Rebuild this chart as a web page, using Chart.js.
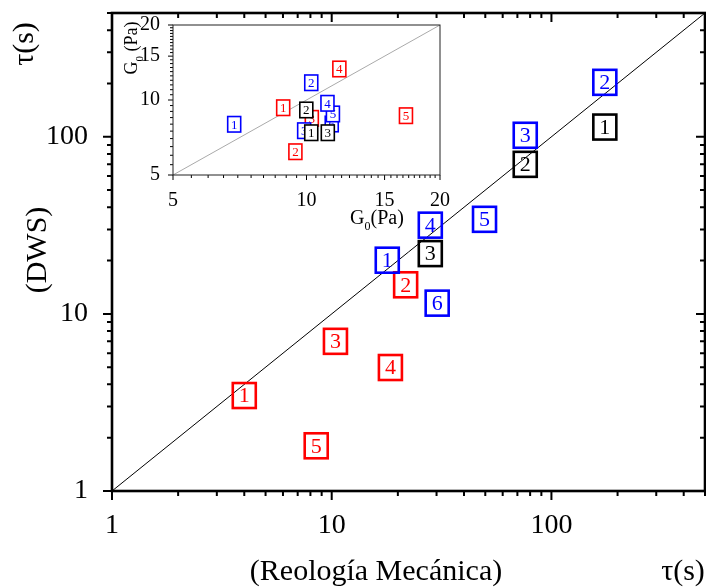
<!DOCTYPE html>
<html>
<head>
<meta charset="utf-8">
<script src="https://cdn.jsdelivr.net/npm/chart.js@4.4.0/dist/chart.umd.min.js"></script>
<style>
  html, body { margin: 0; padding: 0; background: #fff; }
  #wrap { position: relative; width: 706px; height: 587px; }
  #wrap canvas { position: absolute; left: 0; top: 0; }
</style>
</head>
<body>
<div id="wrap">
  <canvas id="mainChart" width="706" height="587"></canvas>
  <canvas id="insetChart" width="706" height="587"></canvas>
</div>
<script>
// relaxation time tau (s): mechanical rheology (x) vs DWS (y)
var tauRange = [1, 500];
var tauTickLabels = [1, 10, 100];

var redLabels = ['1', '2', '3', '4', '5'];
var redTauRheo = [4.0, 21.7, 10.4, 18.5, 8.5];
var redTauDws = [3.46, 14.6, 7.0, 4.98, 1.80];

var blueLabels = ['1', '2', '3', '4', '5', '6'];
var blueTauRheo = [17.9, 175, 76, 28.1, 49.6, 30.2];
var blueTauDws = [20.1, 203, 102, 31.7, 34.2, 11.5];

var blackLabels = ['1', '2', '3'];
var blackTauRheo = [175, 76, 28.1];
var blackTauDws = [113.5, 69.9, 21.9];

// plateau modulus G0 (Pa), inset
var g0Range = [5, 20];
var g0TickLabels = [5, 10, 15, 20];

var redG0Rheo = [8.86, 9.44, 10.28, 11.86, 16.76];
var redG0Dws = [9.31, 6.20, 8.44, 13.32, 8.65];

var blueG0Rheo = [6.87, 10.25, 9.88, 11.15, 11.47, 11.40];
var blueG0Dws = [7.99, 11.73, 7.53, 9.70, 8.79, 8.01];

var blackG0Rheo = [10.25, 9.99, 11.17];
var blackG0Dws = [7.39, 9.12, 7.39];

var RED = '#ff0000', BLUE = '#0000ff', BLACK = '#000000';
var SERIF = '"Liberation Serif", "Times New Roman", serif';

Chart.defaults.font.family = SERIF;
Chart.defaults.color = '#000';
Chart.defaults.animation = false;

function pairs(xs, ys) {
  return xs.map(function (x, i) { return { x: x, y: ys[i] }; });
}

// 1..9 per decade between min and max
function logTickValues(min, max) {
  var out = [];
  for (var d = 1; d <= max; d *= 10) {
    for (var k = 1; k <= 9; k++) {
      var v = k * d;
      if (v >= min && v <= max) out.push(v);
    }
  }
  return out;
}

function stepTickValues(min, max, step) {
  var out = [];
  for (var v = min; v <= max + 1e-9; v += step) out.push(Math.round(v * 100) / 100);
  return out;
}

function setTicks(values, labels) {
  return function (scale) {
    scale.ticks = values.map(function (v) {
      return { value: v, major: labels.indexOf(v) >= 0 };
    });
  };
}

function fixedSize(size) {
  return function (scale) {
    if (scale.isHorizontal()) scale.height = size; else scale.width = size;
    scale.paddingLeft = scale.paddingRight = scale.paddingTop = scale.paddingBottom = 0;
  };
}

function labelOnly(labels) {
  return function (value) { return labels.indexOf(value) >= 0 ? String(value) : ''; };
}

// square markers with the sample number inside
var boxMarks = {
  id: 'boxMarks',
  afterDatasetsDraw: function (chart, args, o) {
    var ctx = chart.ctx;
    ctx.save();
    chart.data.datasets.forEach(function (ds, di) {
      if (!ds.boxLabels) return;
      var meta = chart.getDatasetMeta(di);
      for (var i = meta.data.length - 1; i >= 0; i--) {
        var el = meta.data[i];
        var x0 = el.x - o.w / 2, y0 = el.y - o.h / 2;
        if (o.fill) {
          ctx.fillStyle = '#fff';
          ctx.fillRect(x0, y0, o.w, o.h);
        }
        ctx.lineWidth = o.lineWidth;
        ctx.strokeStyle = ds.borderColor;
        ctx.strokeRect(x0, y0, o.w, o.h);
        ctx.fillStyle = ds.borderColor;
        ctx.font = o.fontSize + 'px ' + SERIF;
        ctx.textAlign = 'center';
        ctx.textBaseline = 'middle';
        ctx.fillText(ds.boxLabels[i], el.x, el.y + o.textShift);
      }
    });
    ctx.restore();
  }
};

// frame and tick marks on the four sides
var frameTicks = {
  id: 'frameTicks',
  afterDraw: function (chart, args, o) {
    var ctx = chart.ctx, a = chart.chartArea;
    var xs = chart.scales.x, ys = chart.scales.y;
    ctx.save();
    ctx.strokeStyle = o.color;
    ctx.lineWidth = o.tickWidth;
    ctx.beginPath();
    xs.ticks.forEach(function (t) {
      var px = xs.getPixelForValue(t.value);
      var len = t.major ? o.major : o.minor;
      ctx.moveTo(px, a.bottom);
      ctx.lineTo(px, a.bottom + len);
      if (o.mirror) {
        ctx.moveTo(px, a.top);
        ctx.lineTo(px, a.top + len);
      }
    });
    ys.ticks.forEach(function (t) {
      var py = ys.getPixelForValue(t.value);
      var len = t.major ? o.major : o.minor;
      ctx.moveTo(a.left, py);
      ctx.lineTo(a.left - len, py);
      if (o.mirror) {
        ctx.moveTo(a.right, py);
        ctx.lineTo(a.right - len, py);
      }
    });
    ctx.stroke();
    ctx.strokeStyle = o.frameColor;
    ctx.lineWidth = o.frameWidth;
    ctx.strokeRect(a.left, a.top, a.right - a.left, a.bottom - a.top);
    ctx.restore();
  }
};

function drawText(ctx, text, x, y, size, rotate) {
  ctx.save();
  ctx.translate(x, y);
  if (rotate) ctx.rotate(-Math.PI / 2);
  ctx.font = size + 'px ' + SERIF;
  ctx.fillStyle = '#000';
  ctx.textAlign = 'center';
  ctx.textBaseline = 'middle';
  ctx.fillText(text, 0, 0);
  ctx.restore();
}

// "G0(Pa)" with a subscript zero
function drawG0(ctx, x, y, size, gap, rotate) {
  ctx.save();
  ctx.translate(x, y);
  if (rotate) ctx.rotate(-Math.PI / 2);
  ctx.fillStyle = '#000';
  ctx.textBaseline = 'alphabetic';
  var big = size + 'px ' + SERIF, small = Math.round(size * 0.6) + 'px ' + SERIF;
  ctx.font = big;
  var wG = ctx.measureText('G').width, wP = ctx.measureText(gap + '(Pa)').width;
  ctx.font = small;
  var wZ = ctx.measureText('0').width;
  var x0 = -(wG + wZ + wP) / 2, base = size * 0.35;
  ctx.font = big;
  ctx.fillText('G', x0, base);
  ctx.font = small;
  ctx.fillText('0', x0 + wG, base + size * 0.3);
  ctx.font = big;
  ctx.fillText(gap + '(Pa)', x0 + wG + wZ, base);
  ctx.restore();
}

var mainTitles = {
  id: 'mainTitles',
  afterDraw: function (chart) {
    var ctx = chart.ctx;
    drawText(ctx, 'τ(s)', 25, 44, 30, true);
    drawText(ctx, '(DWS)', 38, 250, 30, true);
    drawText(ctx, '(Reología Mecánica)', 376, 572, 30, false);
    drawText(ctx, 'τ(s)', 683, 572, 30, false);
  }
};

var insetTitles = {
  id: 'insetTitles',
  afterDraw: function (chart) {
    var ctx = chart.ctx;
    drawG0(ctx, 377, 217, 20, '', false);
    drawG0(ctx, 131, 48, 18, ' ', true);
  }
};

function markSet(xs, ys, labels, color) {
  return {
    data: pairs(xs, ys),
    boxLabels: labels,
    borderColor: color,
    backgroundColor: color,
    pointRadius: 0,
    showLine: false
  };
}

function identityLine(range, color) {
  return {
    type: 'line',
    data: [{ x: range[0], y: range[0] }, { x: range[1], y: range[1] }],
    borderColor: color,
    borderWidth: 1,
    pointRadius: 0,
    fill: false
  };
}

new Chart(document.getElementById('mainChart'), {
  type: 'scatter',
  data: {
    datasets: [
      identityLine(tauRange, '#000'),
      markSet(redTauRheo, redTauDws, redLabels, RED),
      markSet(blueTauRheo, blueTauDws, blueLabels, BLUE),
      markSet(blackTauRheo, blackTauDws, blackLabels, BLACK)
    ]
  },
  options: {
    responsive: false,
    events: [],
    layout: { padding: { top: 13, left: 0, right: 1, bottom: 0 } },
    plugins: {
      legend: { display: false },
      tooltip: { enabled: false },
      boxMarks: { w: 23, h: 25, lineWidth: 2.6, fontSize: 22, textShift: 1, fill: false },
      frameTicks: { major: 9, minor: 5, tickWidth: 2, color: '#000', frameColor: '#000', frameWidth: 2.6, mirror: true }
    },
    scales: {
      x: {
        type: 'logarithmic',
        min: tauRange[0], max: tauRange[1],
        grid: { display: false },
        border: { display: false },
        afterBuildTicks: setTicks(logTickValues(tauRange[0], tauRange[1]), tauTickLabels),
        afterFit: fixedSize(96),
        ticks: { autoSkip: false, maxRotation: 0, minRotation: 0, padding: 10,
                 font: { size: 28 }, callback: labelOnly(tauTickLabels) }
      },
      y: {
        type: 'logarithmic',
        min: tauRange[0], max: tauRange[1],
        grid: { display: false },
        border: { display: false },
        afterBuildTicks: setTicks(logTickValues(tauRange[0], tauRange[1]), tauTickLabels),
        afterFit: fixedSize(112),
        ticks: { autoSkip: false, padding: 16, font: { size: 28 }, callback: labelOnly(tauTickLabels) }
      }
    }
  },
  plugins: [boxMarks, frameTicks, mainTitles]
});

new Chart(document.getElementById('insetChart'), {
  type: 'scatter',
  data: {
    datasets: [
      identityLine(g0Range, '#aaa'),
      markSet(redG0Rheo, redG0Dws, redLabels, RED),
      markSet(blueG0Rheo, blueG0Dws, blueLabels, BLUE),
      markSet(blackG0Rheo, blackG0Dws, blackLabels, BLACK)
    ]
  },
  options: {
    responsive: false,
    events: [],
    layout: { padding: { top: 25, left: 133, right: 266, bottom: 372 } },
    plugins: {
      legend: { display: false },
      tooltip: { enabled: false },
      boxMarks: { w: 13, h: 15.5, lineWidth: 1.6, fontSize: 13, textShift: 1, fill: true },
      frameTicks: { major: 5, minor: 3, tickWidth: 1, color: '#000', frameColor: '#222', frameWidth: 1, mirror: false }
    },
    scales: {
      x: {
        type: 'logarithmic',
        min: g0Range[0], max: g0Range[1],
        grid: { display: false },
        border: { display: false },
        afterBuildTicks: setTicks(stepTickValues(g0Range[0], g0Range[1], 0.5), g0TickLabels),
        afterFit: fixedSize(40),
        ticks: { autoSkip: false, maxRotation: 0, minRotation: 0, padding: 6,
                 font: { size: 20 }, callback: labelOnly(g0TickLabels) }
      },
      y: {
        type: 'logarithmic',
        min: g0Range[0], max: g0Range[1],
        grid: { display: false },
        border: { display: false },
        afterBuildTicks: setTicks(stepTickValues(g0Range[0], g0Range[1], 0.5), g0TickLabels),
        afterFit: fixedSize(40),
        ticks: { autoSkip: false, padding: 5, font: { size: 20 }, callback: labelOnly(g0TickLabels) }
      }
    }
  },
  plugins: [boxMarks, frameTicks, insetTitles]
});
</script>
</body>
</html>
